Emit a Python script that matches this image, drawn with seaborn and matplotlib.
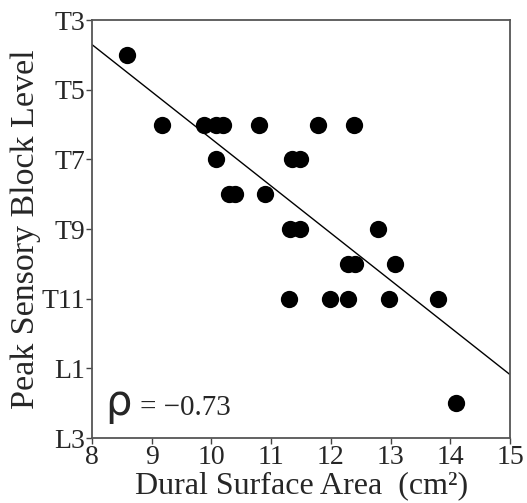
import numpy as np
import pandas as pd
import matplotlib
matplotlib.use("Agg")
import matplotlib.pyplot as plt
import seaborn as sns

# dural surface area (cm^2) and peak block level (0 = T3 ... 12 = L3)
area = [8.58, 9.18, 9.87, 10.08, 10.20, 10.79, 11.79, 12.39,
        10.08, 11.34, 11.49,
        10.29, 10.40, 10.89,
        11.32, 11.49, 12.78,
        12.29, 12.40, 13.08,
        11.29, 11.99, 12.29, 12.98, 13.79,
        14.10]
level = [1, 3, 3, 3, 3, 3, 3, 3,
         4, 4, 4,
         5, 5, 5,
         6, 6, 6,
         7, 7, 7,
         8, 8, 8, 8, 8,
         11]
tick_levels = [0, 2, 4, 6, 8, 10, 12]
tick_names = ["T3", "T5", "T7", "T9", "T11", "L1", "L3"]
rho_text = "= \u22120.73"

df = pd.DataFrame({"area": area, "level": level})

sns.set_theme(style="ticks")
plt.rcParams["font.family"] = ["Liberation Serif", "DejaVu Serif"]

fig = plt.figure(figsize=(5.27, 5.03), dpi=100)
ax = fig.add_axes([0.1746, 0.129, 0.7934, 0.831])
ax.set_xlim(8, 15)
ax.set_ylim(12, 0)

# fit line across the whole x range
sns.regplot(data=df, x="area", y="level", ax=ax, ci=None, truncate=False,
            scatter=False, line_kws={"color": "black", "lw": 1.0})
sns.scatterplot(data=df, x="area", y="level", ax=ax, s=155, color="black",
                edgecolor="black", linewidth=0, zorder=3)

ax.set_xlim(8, 15)
ax.set_ylim(12, 0)
ax.set_xticks(range(8, 16))
ax.set_yticks(tick_levels)
ax.set_yticklabels(tick_names)
ax.tick_params(labelsize=20, length=4, width=1, color="#444444", pad=1)
for s in ax.spines.values():
    s.set_color("#555555")
    s.set_linewidth(1.3)

ax.set_xlabel("Dural Surface Area  (cm\u00b2)", fontsize=23, labelpad=1)
ax.set_ylabel("Peak Sensory Block Level", fontsize=24.5, labelpad=0)

ax.text(8.22, 11.35, "\u03c1", fontsize=30, family=["DejaVu Sans"], va="baseline")
ax.text(8.8, 11.35, rho_text, fontsize=21, va="baseline")

fig.savefig("out.png", dpi=100, facecolor="white")
